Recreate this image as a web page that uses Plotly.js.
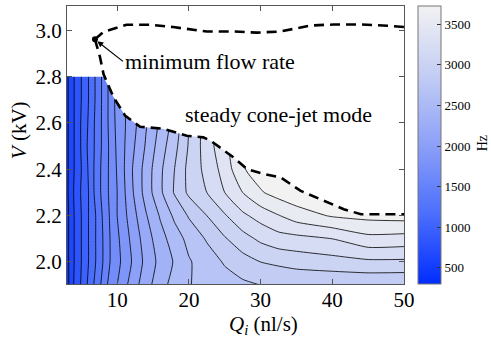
<!DOCTYPE html>
<html><head><meta charset="utf-8">
<script src="https://cdn.plot.ly/plotly-3.0.1.min.js"></script>
<style>html,body{margin:0;padding:0;background:#fff}#chart{width:491px;height:338px}</style>
</head><body><div id="chart"></div>
<script>
// Flow rate Q_i (nl/s) grid columns
const flowRate = [3,4,5,6,7,8,9,10,12,14,16,18,20,22.5,25,27.5,30,32.5,35,40,45,50];
// Voltage V (kV) grid rows
const voltage = [1.9,2.0,2.1,2.2,2.3,2.4,2.5,2.6,2.7,2.8,2.9];
// Frequency (Hz), one row per voltage
const freq = [
 [561,805,968,1148,1327,1490,1669,1767,1995,2191,2354,2484,2574,2631,2672,2712,2745,2753,2761,2761,2761,2753],
 [577,789,952,1115,1278,1441,1604,1718,1930,2142,2305,2435,2566,2664,2761,2843,2908,2941,2973,3006,3038,3038],
 [577,789,952,1115,1278,1441,1604,1734,1963,2175,2354,2501,2631,2761,2892,3006,3104,3169,3185,3234,3348,3332],
 [577,789,952,1115,1278,1457,1620,1767,2012,2240,2435,2615,2761,2908,3055,3201,3299,3389,3479,3576,3609,3625],
 [593,805,968,1115,1327,1490,1637,1767,2060,2321,2549,2761,2941,3071,3234,3397,3544,3625,3674,3690,3690,3690],
 [593,789,952,1131,1327,1490,1637,1783,2077,2321,2549,2745,2957,3120,3299,3544,3642,3690,3690,3690,3690,3690],
 [593,789,968,1148,1311,1474,1637,1800,2044,2272,2501,2696,2924,3153,3356,3544,3642,3690,3690,3690,3690,3690],
 [593,789,968,1131,1311,1474,1653,1816,2012,2240,2452,2647,2908,3153,3364,3544,3642,3690,3690,3690,3690,3690],
 [593,789,952,1115,1294,1474,1653,1832,2012,2240,2452,2647,2908,3153,3364,3544,3642,3690,3690,3690,3690,3690],
 [593,789,952,1115,1294,1474,1653,1832,2012,2240,2452,2647,2908,3153,3364,3544,3642,3690,3690,3690,3690,3690],
 [593,789,952,1115,1294,1474,1653,1832,2012,2240,2452,2647,2908,3153,3364,3544,3642,3690,3690,3690,3690,3690]
];
// Lower stability boundary (dashed) starting at the minimum flow rate point
const lowerQ = [6.9,7.6,8.1,9.5,11.1,13.2,16.4,19.7,22.0,23.0,26.2,28.1,30.5,32.8,35.6,38.8,41.6,44.0,50];
const lowerV = [2.961,2.885,2.81,2.711,2.632,2.584,2.575,2.545,2.538,2.524,2.452,2.401,2.379,2.365,2.307,2.264,2.228,2.206,2.206];
// Upper boundary (dashed)
const upperQ = [6.9,8.1,11.3,14.6,17.8,22.5,26.2,29.5,32.8,37,40.2,44,47.7,50];
const upperV = [2.961,2.993,3.024,3.024,3.014,2.995,2.995,2.990,2.995,3.021,3.025,3.025,3.02,3.014];
// Measured region upper limit on the left (kV)
const measuredTopV = 2.8;
// Minimum flow rate point
const minQ = [6.9], minV = [2.961];
// Axis ticks
const xTicks = [10,20,30,40,50];
const yTicks = [2.0,2.2,2.4,2.6,2.8,3.0];
const cbTicks = [500,1000,1500,2000,2500,3000,3500];
const cbRange = [300,3725];
// Contour levels (Hz)
const levelStart = 463, levelEnd = 3560, levelStep = 163;

const xr = [3,50], yr = [1.905,3.105];
const serif = 'Liberation Serif';
const cscale = [[0,'rgb(0,45,255)'],[0.25,'rgb(75,110,252)'],[0.5,'rgb(140,160,248)'],[0.75,'rgb(195,205,244)'],[1,'rgb(242,242,242)']];

// mask polygon above the boundary (white)
const maskX = [xr[0]-1, lowerQ[2], ...lowerQ.filter((q,i)=>lowerV[i]<=measuredTopV), xr[1]+1, xr[1]+1, xr[0]-1];
const maskY = [measuredTopV, measuredTopV, ...lowerV.filter(v=>v<=measuredTopV), lowerV[lowerV.length-1], yr[1]+1, yr[1]+1];

const traces = [
 {type:'contour', x:flowRate, y:voltage, z:freq, zmin:cbRange[0], zmax:cbRange[1],
  colorscale:cscale, showscale:false,
  contours:{start:levelStart,end:levelEnd,size:levelStep,coloring:'fill',showlines:true},
  line:{color:'#000',width:0.8,smoothing:0.5}, hoverinfo:'skip'},
 {type:'scatter', x:maskX, y:maskY, mode:'lines', fill:'toself', fillcolor:'#fff',
  line:{width:0,color:'#fff'}, hoverinfo:'skip', showlegend:false},
 {type:'scatter', x:lowerQ, y:lowerV, mode:'lines', line:{color:'#000',width:2.6,dash:'10px,6px'}, showlegend:false},
 {type:'scatter', x:upperQ, y:upperV, mode:'lines', line:{color:'#000',width:2.6,dash:'10px,6px'}, showlegend:false},
 {type:'scatter', x:minQ, y:minV, mode:'markers', marker:{color:'#000',size:6}, showlegend:false},
 {type:'heatmap', x:[100,101], y:[10,11], z:[cbRange,cbRange], zmin:cbRange[0], zmax:cbRange[1],
  colorscale:cscale, showscale:true, hoverinfo:'skip',
  colorbar:{thickness:23, thicknessmode:'pixels', len:1, lenmode:'fraction', x:1.0415, xanchor:'left', xpad:0,
   y:0.5, yanchor:'middle', ypad:0, outlinewidth:1, outlinecolor:'#777',
   ticks:'inside', ticklen:4, tickcolor:'#333', tickvals:cbTicks, tickfont:{family:serif,size:13,color:'#000'}}}
];

const axisCommon = {showgrid:false, zeroline:false, showline:true, mirror:'ticks', linecolor:'#555', linewidth:1,
  ticks:'inside', ticklen:5, tickcolor:'#555', tickfont:{family:serif,size:21,color:'#000'}};

const layout = {
 width:491, height:338, margin:{l:67,r:87,t:6,b:54}, paper_bgcolor:'#fff', plot_bgcolor:'#fff', showlegend:false,
 font:{family:serif},
 xaxis:Object.assign({range:xr, tickvals:xTicks, ticklabelstandoff:-3}, axisCommon),
 yaxis:Object.assign({range:yr, tickvals:yTicks, tickformat:'.1f'}, axisCommon),
 annotations:[
  {x:minQ[0], y:minV[0], xref:'x', yref:'y', ax:28, ay:22, text:'minimum flow rate', showarrow:true,
   arrowhead:2, arrowsize:1, arrowwidth:1.2, arrowcolor:'#000', standoff:3, xanchor:'left', yanchor:'middle',
   font:{family:serif,size:22,color:'#000'}},
  {x:19.2, y:2.637, xref:'x', yref:'y', text:'steady cone-jet mode', showarrow:false, xanchor:'left', yanchor:'middle',
   font:{family:serif,size:22,color:'#000'}},
  {x:0.582, y:-0.148, xref:'paper', yref:'paper', text:'<i>Q</i><sub><i>i</i></sub> (nl/s)', showarrow:false,
   xanchor:'center', yanchor:'middle', font:{family:serif,size:21,color:'#000'}},
  {x:-0.142, y:0.554, xref:'paper', yref:'paper', text:'<i>V</i> (kV)', showarrow:false, textangle:-90,
   xanchor:'center', yanchor:'middle', font:{family:serif,size:21,color:'#000'}},
  {x:1.232, y:0.507, xref:'paper', yref:'paper', text:'Hz', showarrow:false, textangle:-90,
   xanchor:'center', yanchor:'middle', font:{family:serif,size:14,color:'#000'}}
 ]
};
Plotly.newPlot('chart', traces, layout, {displayModeBar:false, staticPlot:true});
</script></body></html>
